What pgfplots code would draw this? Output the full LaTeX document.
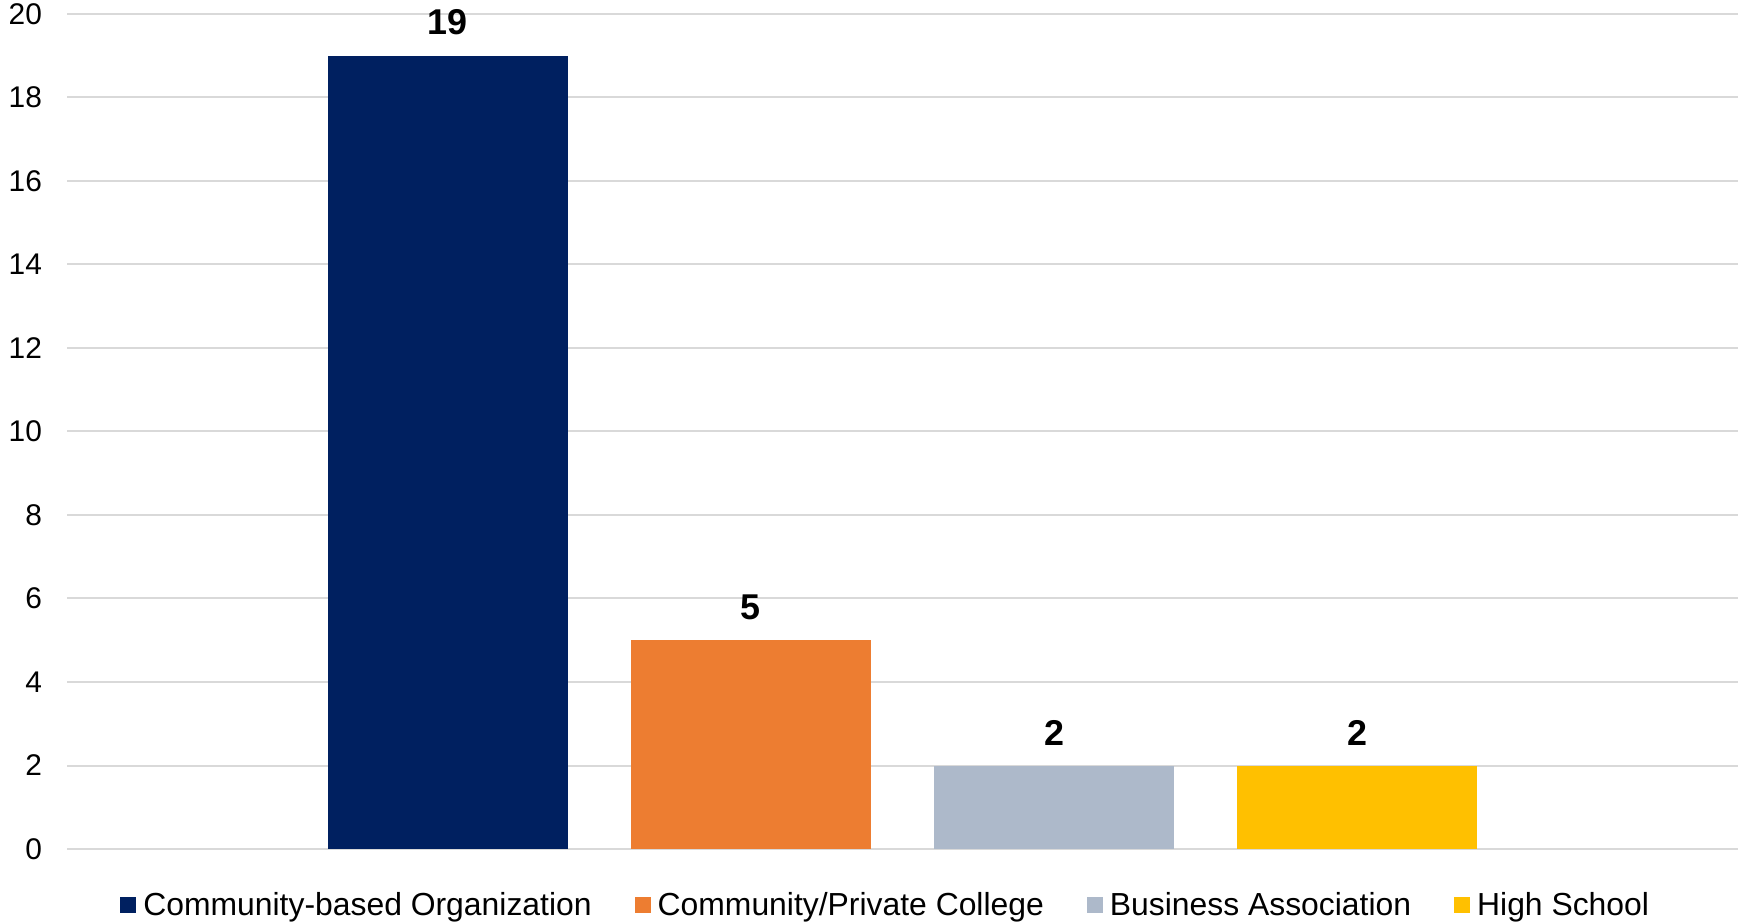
\documentclass[border=0pt]{standalone}
\usepackage{pgfplots}
\pgfplotsset{compat=1.18}
\usepackage{fontspec}
\setmainfont{Liberation Sans}
\definecolor{cNavy}{HTML}{002060}
\definecolor{cOrange}{HTML}{ED7D31}
\definecolor{cGray}{HTML}{ADB9CA}
\definecolor{cYellow}{HTML}{FFC000}
\definecolor{cGrid}{HTML}{D9D9D9}
\begin{document}
\begin{tikzpicture}
\useasboundingbox (-33.5bp,-37bp) rectangle (836.5bp,424.5bp);
\begin{axis}[
  at={(0,0)}, anchor=south west,
  scale only axis,
  width=835.5bp, height=417.5bp,
  ybar, bar width=120bp, bar shift=0pt,
  xmin=-1.255, xmax=4.255,
  ymin=0, ymax=20,
  ytick={0,2,...,20},
  xtick=\empty,
  ymajorgrids,
  grid style={cGrid, line width=1bp},
  axis line style={draw=none},
  major tick length=0pt,
  clip=false,
  /pgf/number format/assume math mode=true,
  yticklabel style={font=\fontsize{15}{18}\selectfont, xshift=-9bp},
  nodes near coords,
  nodes near coords style={font=\fontsize{18}{21}\selectfont\bfseries, anchor=south, inner sep=0pt, yshift=10bp, text=black},
  legend columns=4,
  legend style={at={(0.0317,-0.067)}, anchor=west, draw=none, inner sep=0pt,
    font=\fontsize{16}{19}\selectfont,
    /tikz/every odd column/.append style={column sep=3.5bp},
    /tikz/every even column/.append style={column sep=21.5bp},
    nodes={inner sep=0pt}},
  legend image code/.code={\fill[#1] (0bp,-4bp) rectangle (8bp,4bp);},
]
\addplot[fill=cNavy, draw=none] coordinates {(0,19)};
\addlegendentry{Community-based Organization}
\addplot[fill=cOrange, draw=none] coordinates {(1,5)};
\addlegendentry{Community/Private College}
\addplot[fill=cGray, draw=none] coordinates {(2,2)};
\addlegendentry{Business Association}
\addplot[fill=cYellow, draw=none] coordinates {(3,2)};
\addlegendentry{High School}
\end{axis}
\end{tikzpicture}
\end{document}
